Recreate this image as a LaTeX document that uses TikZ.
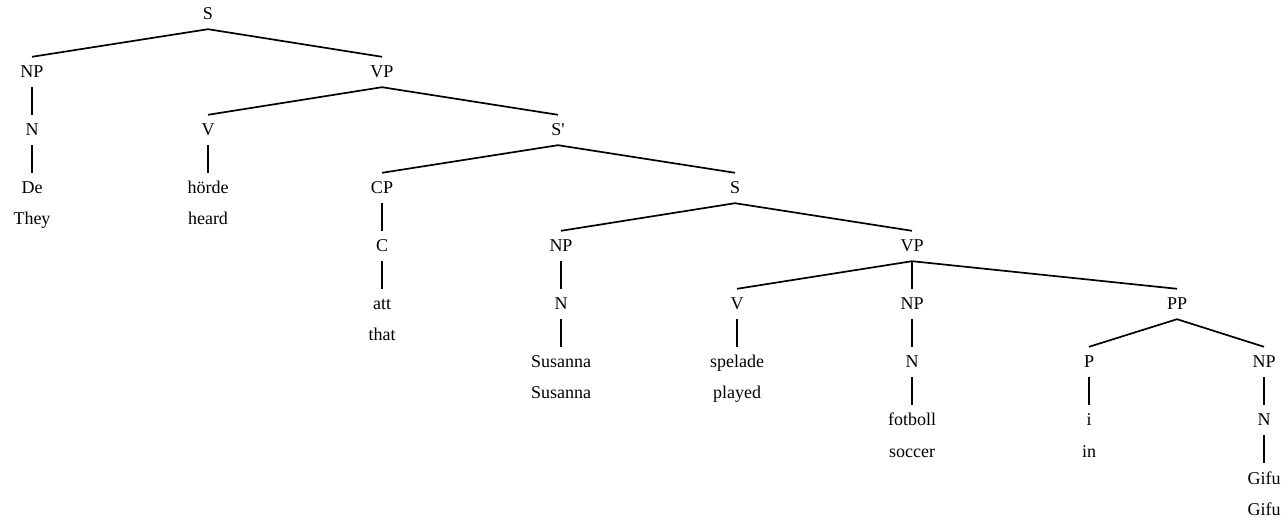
\documentclass[tikz,border=0pt]{standalone}
\usepackage{fontspec}
\setmainfont{Liberation Serif}
\usetikzlibrary{positioning}

\tikzset{
    cat/.style={anchor=base, inner xsep=2pt, inner ysep=9pt,
        text height=12pt, text depth=0pt,
        font=\fontsize{18}{20}\selectfont},
    gloss/.style={anchor=base, inner sep=0pt,
        font=\fontsize{18}{20}\selectfont},
    branch/.style={line width=1.7pt}
}

\begin{document}
\begin{tikzpicture}[x=1pt, y=-1pt]
    \useasboundingbox (0,0) rectangle (1288,526);
    \pgfmathsetmacro{\gl}{31}  % gap from word to its gloss
    % level 0 and 1
    \node[cat] (s) at (208,20) {S};
    \node[cat] (np) at (32,78) {NP};
    \node[cat] (vp) at (382,78) {VP};
    % level 2
    \node[cat] (n) at (32,136) {N};
    \node[cat] (v) at (208,136) {V};
    \node[cat] (sbar) at (558,136) {S\textquotesingle};
    % level 3
    \node[cat] (de) at (32,194) {De};
    \node[gloss] (they) at (32,194+\gl) {They};
    \node[cat] (horde) at (208,194) {hörde};
    \node[gloss] (heard) at (208,194+\gl) {heard};
    \node[cat] (cp) at (382,194) {CP};
    \node[cat] (ss) at (735,194) {S};
    % level 4
    \node[cat] (c) at (382,252) {C};
    \node[cat] (npsub) at (561,252) {NP};
    \node[cat] (vpsub) at (912,252) {VP};
    % level 5
    \node[cat] (att) at (382,310) {att};
    \node[gloss] (that) at (382,310+\gl) {that};
    \node[cat] (nsub) at (561,310) {N};
    \node[cat] (vsub) at (737,310) {V};
    \node[cat] (npobj) at (912,310) {NP};
    \node[cat] (pp) at (1177,310) {PP};
    % level 6
    \node[cat] (susanna) at (561,368) {Susanna};
    \node[gloss] (susannagl) at (561,368+\gl) {Susanna};
    \node[cat] (spelade) at (737,368) {spelade};
    \node[gloss] (played) at (737,368+\gl) {played};
    \node[cat] (nobj) at (912,368) {N};
    \node[cat] (p) at (1089,368) {P};
    \node[cat] (nppp) at (1264,368) {NP};
    % level 7 and 8
    \node[cat] (fotboll) at (912,426) {fotboll};
    \node[gloss] (soccer) at (912,426+\gl) {soccer};
    \node[cat] (i) at (1089,426) {i};
    \node[gloss] (in) at (1089,426+\gl) {in};
    \node[cat] (npp) at (1264,426) {N};
    \node[cat] (gifu) at (1264,484) {Gifu};
    \node[gloss] (gifugl) at (1264,484+\gl) {Gifu};

    % branches
    \draw[branch] (s.south) -- (np.north);
    \draw[branch] (s.south) -- (vp.north);
    \draw[branch] (np.south) -- (n.north);
    \draw[branch] (n.south) -- (de.north);
    \draw[branch] (vp.south) -- (v.north);
    \draw[branch] (vp.south) -- (sbar.north);
    \draw[branch] (v.south) -- (horde.north);
    \draw[branch] (sbar.south) -- (cp.north);
    \draw[branch] (sbar.south) -- (ss.north);
    \draw[branch] (cp.south) -- (c.north);
    \draw[branch] (c.south) -- (att.north);
    \draw[branch] (ss.south) -- (npsub.north);
    \draw[branch] (ss.south) -- (vpsub.north);
    \draw[branch] (npsub.south) -- (nsub.north);
    \draw[branch] (nsub.south) -- (susanna.north);
    \draw[branch] (vpsub.south) -- (vsub.north);
    \draw[branch] (vpsub.south) -- (npobj.north);
    \draw[branch] (vpsub.south) -- (pp.north);
    \draw[branch] (vsub.south) -- (spelade.north);
    \draw[branch] (npobj.south) -- (nobj.north);
    \draw[branch] (nobj.south) -- (fotboll.north);
    \draw[branch] (pp.south) -- (p.north);
    \draw[branch] (pp.south) -- (nppp.north);
    \draw[branch] (p.south) -- (i.north);
    \draw[branch] (nppp.south) -- (npp.north);
    \draw[branch] (npp.south) -- (gifu.north);
\end{tikzpicture}
\end{document}
